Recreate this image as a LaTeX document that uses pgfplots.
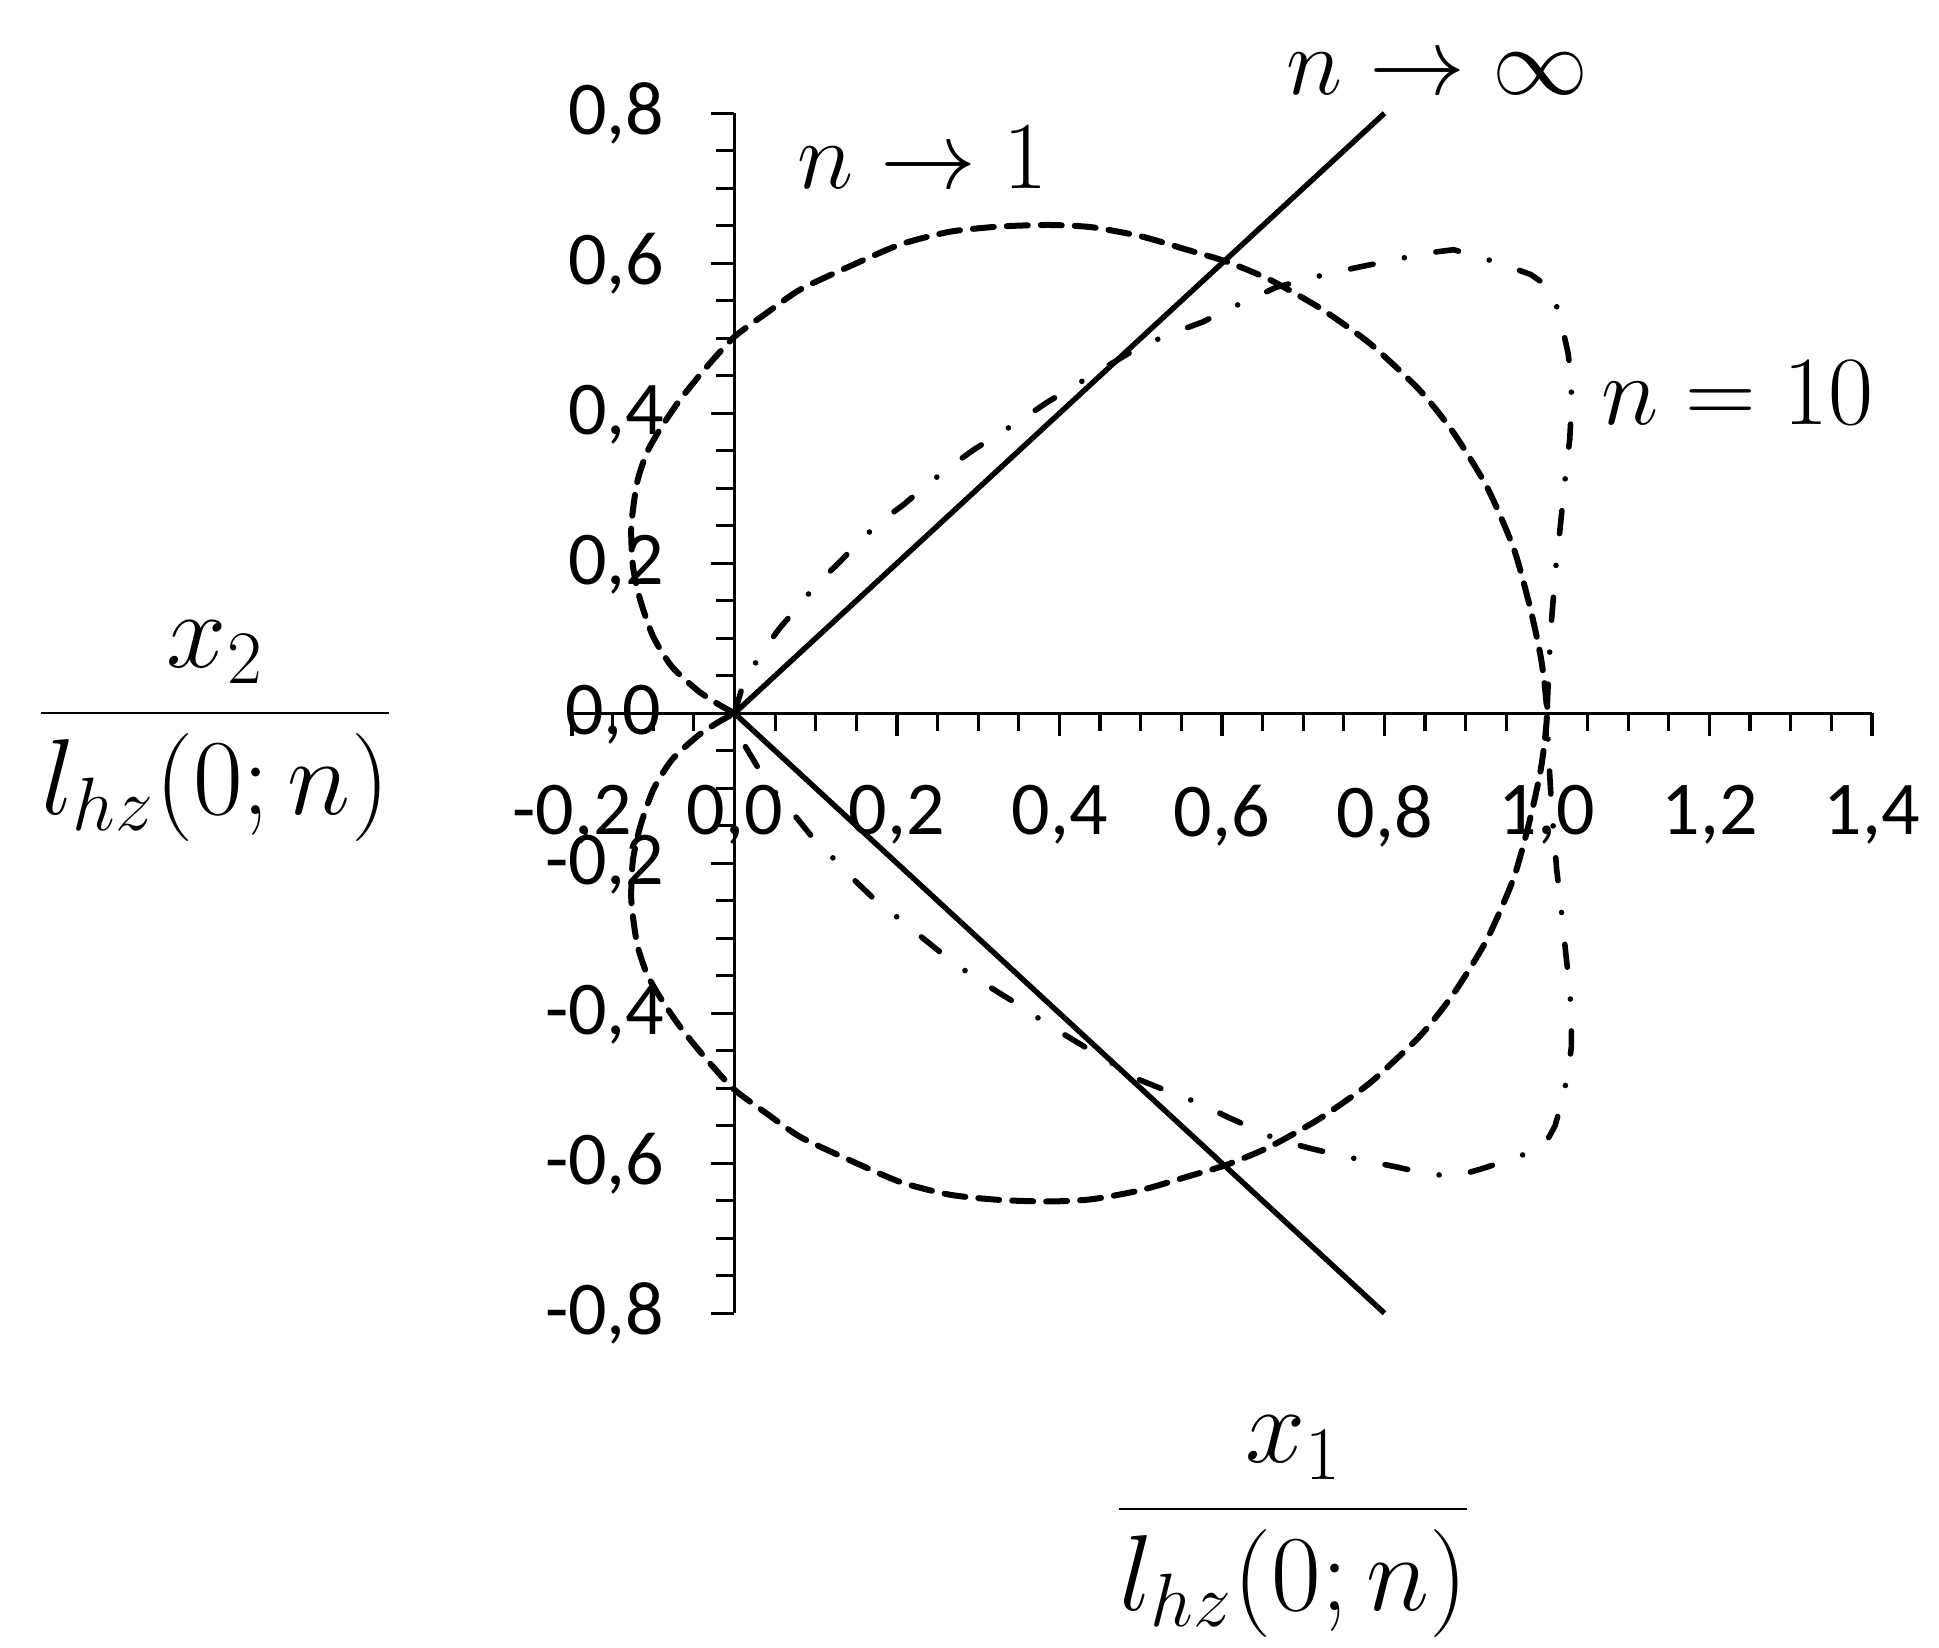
\RequirePackage{fix-cm}
\documentclass[border=0pt]{standalone}
\usepackage[no-math]{fontspec}
\setmainfont{Carlito}
\usepackage{pgfplots}
\pgfplotsset{compat=1.18}

\begin{document}
\begin{tikzpicture}
\begin{axis}[
  x=203.125pt, y=187.5pt,
  xmin=-0.2, xmax=1.4, ymin=-0.8, ymax=0.8,
  axis lines=middle,
  axis line style={line width=0.8pt, -},
  xtick={-0.2,0,0.2,0.4,0.6,0.8,1,1.2,1.4},
  ytick={-0.8,-0.6,-0.4,-0.2,0,0.2,0.4,0.6,0.8},
  minor tick num=3,
  tick align=outside,
  major tick length=5.75pt,
  minor tick length=4.5pt,
  every tick/.style={black, line width=0.8pt},
  clip=false,
  /pgf/number format/.cd, fixed, fixed zerofill, precision=1, use comma, assume math mode=true,
  /pgfplots/.cd,
  tick label style={font=\fontsize{19}{22}\selectfont},
  xticklabel style={anchor=north, inner sep=0pt, yshift=-12.15pt},
  yticklabel style={anchor=base east, inner sep=0pt, xshift=-11.6pt, yshift=-5.4pt},
]
% n = 1 limit (dashed)
\addplot[black, smooth, tension=0.4, line width=1.5pt, line cap=round, dash pattern=on 5.25pt off 3.25pt] coordinates {
(0,0) (-0.02,0.012) (-0.045,0.03) (-0.077,0.062) (-0.1,0.102) (-0.116,0.151) (-0.125,0.196) (-0.127,0.249) (-0.12,0.307) (-0.108,0.347) (-0.092,0.378) (-0.067,0.418) (-0.034,0.462) (0,0.502) (0.04,0.534) (0.081,0.565) (0.142,0.596) (0.204,0.625) (0.265,0.642) (0.327,0.649) (0.388,0.651) (0.44,0.648) (0.5,0.636) (0.557,0.618) (0.606,0.602) (0.659,0.578) (0.721,0.540) (0.782,0.493) (0.844,0.430) (0.885,0.374) (0.926,0.302) (0.959,0.220) (0.979,0.142) (0.993,0.071) (1.0,0)
(0.993,-0.071) (0.979,-0.142) (0.959,-0.220) (0.926,-0.302) (0.885,-0.374) (0.844,-0.430) (0.782,-0.493) (0.721,-0.540) (0.659,-0.578) (0.606,-0.602) (0.557,-0.618) (0.5,-0.636) (0.44,-0.648) (0.388,-0.651) (0.327,-0.649) (0.265,-0.642) (0.204,-0.625) (0.142,-0.596) (0.081,-0.565) (0.04,-0.534) (0,-0.502) (-0.034,-0.462) (-0.067,-0.418) (-0.092,-0.378) (-0.108,-0.347) (-0.12,-0.307) (-0.127,-0.249) (-0.125,-0.196) (-0.116,-0.151) (-0.1,-0.102) (-0.077,-0.062) (-0.045,-0.03) (-0.02,-0.012) (0,0)
};
% n = 10 (dash-dot)
\addplot[black, line width=1.4pt, line cap=round, dash pattern=on 5.75pt off 8pt on 0pt off 8pt] coordinates {
(0,0) (0.011,0.040) (0.033,0.080) (0.056,0.114) (0.077,0.140) (0.100,0.171) (0.128,0.200) (0.150,0.225) (0.178,0.254) (0.208,0.278) (0.232,0.300) (0.263,0.327) (0.294,0.351) (0.323,0.371) (0.353,0.391) (0.384,0.414) (0.413,0.433) (0.442,0.452) (0.470,0.470) (0.499,0.489) (0.540,0.507) (0.577,0.522) (0.606,0.538) (0.639,0.554) (0.667,0.568) (0.708,0.580) (0.743,0.589) (0.778,0.597) (0.815,0.605) (0.848,0.613) (0.885,0.618) (0.918,0.608) (0.952,0.596) (0.980,0.585) (1.000,0.570) (1.010,0.550) (1.018,0.519) (1.026,0.480) (1.030,0.445) (1.030,0.405) (1.028,0.365) (1.024,0.329) (1.020,0.287) (1.016,0.245) (1.012,0.209) (1.009,0.169) (1.006,0.129) (1.004,0.094) (1.002,0.054) (1.0,0)
(1.002,-0.054) (1.004,-0.094) (1.006,-0.129) (1.009,-0.169) (1.012,-0.209) (1.016,-0.245) (1.020,-0.287) (1.024,-0.329) (1.028,-0.365) (1.030,-0.405) (1.030,-0.445) (1.026,-0.480) (1.018,-0.519) (1.010,-0.550) (1.000,-0.570) (0.980,-0.585) (0.952,-0.596) (0.918,-0.608) (0.885,-0.618) (0.848,-0.613) (0.815,-0.605) (0.778,-0.597) (0.743,-0.589) (0.708,-0.580) (0.667,-0.568) (0.639,-0.554) (0.606,-0.538) (0.577,-0.522) (0.540,-0.507) (0.499,-0.489) (0.470,-0.470) (0.442,-0.452) (0.413,-0.433) (0.384,-0.414) (0.353,-0.391) (0.323,-0.371) (0.294,-0.351) (0.263,-0.327) (0.232,-0.300) (0.208,-0.278) (0.178,-0.254) (0.150,-0.225) (0.128,-0.200) (0.100,-0.171) (0.077,-0.140) (0.056,-0.114) (0.033,-0.080) (0.011,-0.040) (0,0)
};
% n -> infinity (solid)
\addplot[black, line width=1.35pt] coordinates {(0.8,0.8) (0,0) (0.8,-0.8)};

% zero tick labels at the origin
\node[anchor=base east, inner sep=0pt, font=\fontsize{19}{22}\selectfont, xshift=-18.1pt, yshift=-5.4pt] at (axis cs:0,0) {0,0};
\node[anchor=north, inner sep=0pt, font=\fontsize{19}{22}\selectfont, yshift=-17.9pt] at (axis cs:0,0) {0,0};

\node[anchor=base west, inner sep=0pt, font=\fontsize{24}{28}\selectfont] at (axis cs:0.077,0.70) {$n \to 1$};
\node[anchor=base west, inner sep=0pt, font=\fontsize{24}{28}\selectfont] at (axis cs:0.679,0.825) {$n \to \infty$};
\node[anchor=base west, inner sep=0pt, font=\fontsize{24.5}{28}\selectfont] at (axis cs:1.066,0.385) {$n = 10$};

\node[anchor=base, inner sep=0pt, font=\fontsize{27}{32}\selectfont, yshift=-6.75pt] at (axis cs:-0.639,0) {$\displaystyle\frac{x_2}{l_{hz}(0;n)}$};
\node[anchor=base, inner sep=0pt, font=\fontsize{27}{32}\selectfont, yshift=-6.75pt] at (axis cs:0.688,-1.061) {$\displaystyle\frac{x_1}{l_{hz}(0;n)}$};

\coordinate (bbl) at (axis cs:-0.904,-1.246);
\coordinate (btr) at (axis cs:1.4825,0.951);
\end{axis}
\pgfresetboundingbox
\path[use as bounding box] (bbl) rectangle (btr);
\end{tikzpicture}
\end{document}
